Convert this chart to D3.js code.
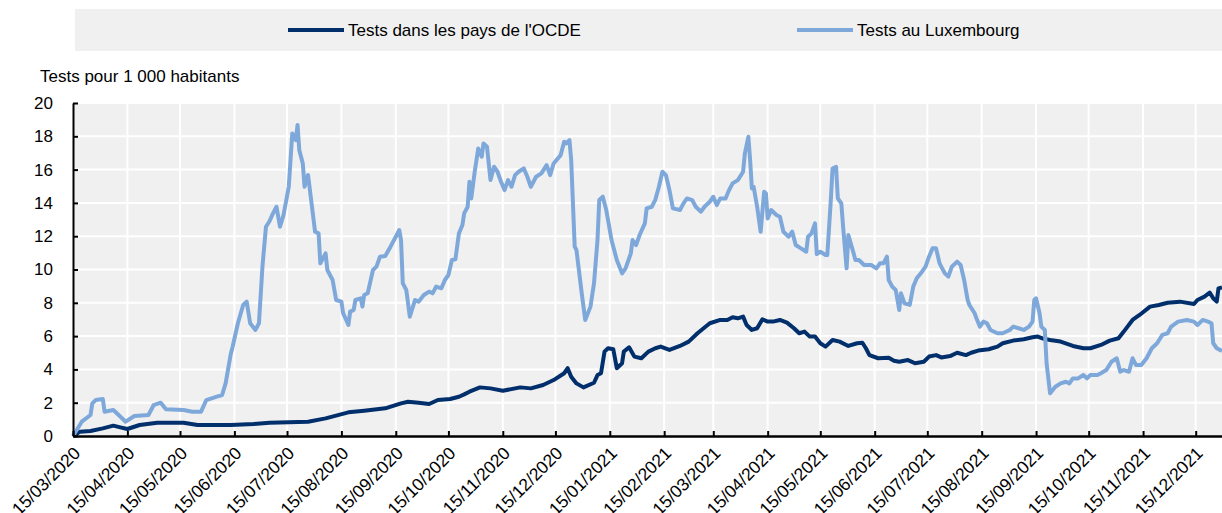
<!DOCTYPE html>
<html>
<head>
<meta charset="utf-8">
<script src="https://cdn.jsdelivr.net/npm/d3@7"></script>
<style>
  body { margin: 0; background: #fff; }
  svg { display: block; font-family: "Liberation Sans", Arial, sans-serif; }
</style>
</head>
<body>
<svg id="chart"></svg>
<script>
// Chart size
var width = 1222;
var height = 513;
var margin = { top: 103, right: 0, bottom: 77, left: 73 };

// Series names and colours
var seriesNames = ["Tests dans les pays de l'OCDE", "Tests au Luxembourg"];
var seriesColors = ["#002f6c", "#7ea8da"];

// Time axis: days counted from 15/03/2020
var startDate = "2020-03-15";
var endDate = "2021-12-30";
var tickLabels = ["15/03/2020", "15/04/2020", "15/05/2020", "15/06/2020", "15/07/2020",
    "15/08/2020", "15/09/2020", "15/10/2020", "15/11/2020", "15/12/2020", "15/01/2021",
    "15/02/2021", "15/03/2021", "15/04/2021", "15/05/2021", "15/06/2021", "15/07/2021",
    "15/08/2021", "15/09/2021", "15/10/2021", "15/11/2021", "15/12/2021"];
var yTicks = [0, 2, 4, 6, 8, 10, 12, 14, 16, 18, 20];
var yLabel = "Tests pour 1 000 habitants";

// OECD (days since start, tests per 1 000)
var oecdDay = [0, 4, 10, 17, 23, 27, 31, 38, 48, 63, 71, 90, 103, 112, 134, 144, 157, 166, 178, 187,
    191, 197, 203, 208, 215, 220, 223, 226, 232, 238, 245, 255, 261, 268, 274, 280, 282, 284, 287, 291,
    297, 299, 301, 303, 305, 308, 310, 313, 314, 317, 320, 324, 328, 332, 335, 340, 346, 351, 356, 363,
    369, 373, 376, 379, 382, 384, 387, 390, 393, 396, 399, 403, 407, 411, 414, 417, 420, 423, 426, 429,
    433, 437, 442, 447, 450, 452, 454, 459, 465, 468, 471, 476, 480, 485, 488, 492, 495, 500, 504, 509,
    512, 516, 522, 527, 530, 536, 542, 547, 550, 553, 557, 563, 570, 576, 580, 586, 591, 596, 599, 604,
    608, 614, 619, 624, 631, 639, 641, 645, 648, 650, 652, 653, 655];
var oecdVal = [0, 0.26, 0.3, 0.46, 0.62, 0.52, 0.42, 0.66, 0.8, 0.8, 0.66, 0.66, 0.72, 0.8, 0.86, 1.06, 1.42, 1.52, 1.66, 1.96,
    2.06, 2.0, 1.92, 2.16, 2.22, 2.36, 2.5, 2.66, 2.92, 2.86, 2.72, 2.92, 2.86, 3.06, 3.36, 3.77, 4.07, 3.56, 3.16, 2.92,
    3.2, 3.66, 3.77, 5.07, 5.27, 5.21, 4.07, 4.37, 5.07, 5.33, 4.77, 4.67, 5.07, 5.27, 5.37, 5.17, 5.41, 5.67, 6.17, 6.77,
    6.97, 6.97, 7.13, 7.07, 7.17, 6.67, 6.37, 6.47, 7.01, 6.87, 6.87, 6.97, 6.81, 6.47, 6.17, 6.27, 5.97, 5.97, 5.57, 5.37,
    5.77, 5.67, 5.41, 5.57, 5.6, 5.27, 4.86, 4.67, 4.7, 4.52, 4.46, 4.56, 4.37, 4.46, 4.77, 4.86, 4.72, 4.8, 5.0, 4.86,
    5.0, 5.13, 5.21, 5.37, 5.57, 5.73, 5.81, 5.93, 5.97, 5.85, 5.77, 5.67, 5.41, 5.27, 5.27, 5.47, 5.73, 5.87, 6.27, 6.97,
    7.27, 7.77, 7.87, 8.0, 8.07, 7.93, 8.17, 8.37, 8.61, 8.27, 8.07, 8.87, 8.93];

// Luxembourg (days since start, tests per 1 000)
var luxDay = [0, 5, 10, 11, 13, 17, 18, 23, 26, 30, 35, 43, 46, 50, 53, 63, 68, 73, 76, 82,
    85, 87, 90, 91, 94, 97, 99, 101, 104, 106, 108, 110, 112, 114, 116, 118, 120, 123, 125, 127,
    128, 129, 131, 132, 134, 136, 138, 140, 141, 144, 145, 148, 150, 153, 154, 157, 158, 160, 161, 164,
    165, 166, 168, 171, 173, 175, 178, 181, 184, 186, 187, 188, 190, 192, 195, 197, 200, 203, 205, 207,
    210, 212, 214, 216, 218, 220, 222, 223, 225, 226, 227, 229, 231, 233, 234, 236, 238, 240, 242, 244,
    246, 248, 250, 252, 254, 257, 259, 261, 264, 267, 270, 272, 274, 278, 280, 281, 283, 284, 286, 287,
    290, 292, 295, 297, 299, 300, 302, 304, 307, 308, 310, 313, 315, 318, 319, 321, 323, 326, 327, 330,
    332, 334, 336, 338, 340, 342, 346, 348, 350, 353, 355, 358, 360, 363, 365, 367, 369, 372, 374, 376,
    379, 382, 383, 385, 386, 387, 388, 390, 392, 394, 395, 396, 398, 401, 403, 405, 408, 410, 412, 415,
    418, 419, 421, 423, 424, 426, 429, 430, 432, 433, 435, 436, 438, 439, 441, 442, 445, 446, 448, 451,
    455, 458, 460, 462, 464, 465, 467, 469, 470, 471, 472, 474, 477, 479, 481, 484, 486, 488, 490, 492,
    494, 497, 499, 501, 504, 506, 508, 510, 511, 514, 515, 517, 519, 521, 523, 527, 530, 534, 536, 539,
    542, 545, 547, 548, 549, 551, 552, 554, 555, 557, 560, 563, 566, 568, 570, 573, 576, 578, 580, 584,
    586, 589, 592, 595, 597, 599, 602, 604, 606, 609, 612, 615, 618, 621, 624, 626, 630, 635, 639, 641,
    643, 644, 647, 649, 650, 652, 655];
var luxVal = [0, 0.86, 1.26, 1.96, 2.16, 2.22, 1.46, 1.56, 1.26, 0.86, 1.2, 1.26, 1.86, 2.0, 1.6, 1.56, 1.46, 1.46, 2.16, 2.36,
    2.46, 3.16, 4.96, 5.36, 6.77, 7.87, 8.07, 6.77, 6.37, 6.77, 10.17, 12.57, 12.9, 13.37, 13.77, 12.57, 13.27, 14.97, 18.17, 17.77,
    18.68, 17.17, 16.37, 14.97, 15.67, 13.97, 12.27, 12.17, 10.37, 10.97, 9.97, 9.37, 8.17, 8.07, 7.37, 6.67, 7.47, 7.57, 8.17, 8.27,
    7.77, 8.47, 8.57, 9.97, 10.17, 10.77, 10.81, 11.37, 11.97, 12.37, 11.77, 9.17, 8.77, 7.17, 8.17, 8.07, 8.47, 8.67, 8.57, 8.97,
    8.87, 9.37, 9.67, 10.57, 10.61, 12.17, 12.67, 13.37, 13.77, 15.27, 14.27, 15.87, 17.27, 16.77, 17.57, 17.37, 15.37, 16.17, 15.87, 15.27,
    14.77, 15.37, 14.97, 15.67, 15.87, 16.07, 15.57, 14.97, 15.57, 15.77, 16.27, 15.67, 16.37, 16.87, 17.67, 17.57, 17.77, 16.57, 11.37, 11.17,
    8.57, 6.97, 7.77, 9.17, 11.77, 14.17, 14.37, 13.57, 11.77, 11.37, 10.57, 9.77, 10.07, 10.97, 11.77, 11.47, 12.07, 12.77, 13.67, 13.77,
    14.2, 14.97, 15.87, 15.67, 14.77, 13.67, 13.57, 13.97, 14.27, 14.17, 13.77, 13.47, 13.77, 14.07, 14.37, 13.87, 14.27, 14.27, 14.77, 15.17,
    15.37, 15.87, 16.97, 17.97, 16.57, 14.87, 14.97, 13.77, 12.27, 14.67, 14.57, 13.07, 13.57, 13.27, 13.17, 12.27, 11.97, 12.27, 11.47, 11.27,
    11.07, 11.97, 12.17, 12.77, 10.93, 11.07, 10.87, 10.87, 14.17, 16.07, 16.17, 14.27, 13.97, 12.57, 10.07, 12.07, 10.97, 10.57, 10.57, 10.27,
    10.27, 10.07, 10.37, 10.37, 10.77, 9.37, 8.97, 8.77, 8.17, 7.57, 8.57, 7.97, 7.87, 8.97, 9.47, 9.87, 10.17, 10.77, 11.27, 11.27,
    10.37, 9.77, 9.57, 10.17, 10.47, 10.27, 9.37, 8.17, 7.87, 7.37, 7.07, 6.57, 6.87, 6.77, 6.37, 6.17, 6.17, 6.37, 6.57, 6.47,
    6.37, 6.57, 6.87, 8.17, 8.27, 7.37, 6.57, 6.37, 4.37, 2.56, 2.96, 3.16, 3.26, 3.16, 3.46, 3.46, 3.66, 3.46, 3.66, 3.66,
    3.77, 3.96, 4.46, 4.67, 3.86, 3.96, 3.86, 4.67, 4.26, 4.26, 4.67, 5.27, 5.57, 6.07, 6.17, 6.57, 6.87, 6.97, 6.87, 6.67,
    6.87, 6.97, 6.87, 6.77, 5.57, 5.27, 5.1];

var parse = d3.timeParse("%Y-%m-%d");
var t0 = parse(startDate);

// build point lists from the arrays above
function toPoints(days, vals) {
    return days.map(function (d, i) { return { date: d3.timeDay.offset(t0, d), value: vals[i] }; });
}
var series = [
    { name: seriesNames[0], color: seriesColors[0], points: toPoints(oecdDay, oecdVal) },
    { name: seriesNames[1], color: seriesColors[1], points: toPoints(luxDay, luxVal) }
];

var svg = d3.select("#chart").attr("width", width).attr("height", height);

var x = d3.scaleTime()
    .domain([t0, parse(endDate)])
    .range([margin.left, width - margin.right]);
var y = d3.scaleLinear()
    .domain([0, 20])
    .range([height - margin.bottom, margin.top]);

var tickDates = d3.range(tickLabels.length).map(function (i) { return d3.timeMonth.offset(t0, i); });

// Legend band
var legend = svg.append("g");
legend.append("rect")
    .attr("x", 75).attr("y", 9)
    .attr("width", width - 75).attr("height", 42)
    .attr("fill", "#f0f0f0");
var legendX = [288, 797];
series.forEach(function (s, i) {
    legend.append("line")
        .attr("x1", legendX[i]).attr("x2", legendX[i] + 56)
        .attr("y1", 30).attr("y2", 30)
        .attr("stroke", s.color).attr("stroke-width", 4);
    legend.append("text")
        .attr("x", legendX[i] + 60).attr("y", 30)
        .attr("dy", "0.35em")
        .style("font-size", "17px")
        .text(s.name);
});

// Plot background and grid
svg.append("rect")
    .attr("x", margin.left).attr("y", margin.top)
    .attr("width", width - margin.right - margin.left)
    .attr("height", height - margin.bottom - margin.top)
    .attr("fill", "#f0f0f0");

svg.append("g")
    .selectAll("line")
    .data(yTicks.slice(1))
    .enter().append("line")
    .attr("x1", margin.left).attr("x2", width - margin.right)
    .attr("y1", function (d) { return y(d); })
    .attr("y2", function (d) { return y(d); })
    .attr("stroke", "#fff").attr("stroke-width", 2);

svg.append("g")
    .selectAll("line")
    .data(tickDates.slice(1))
    .enter().append("line")
    .attr("x1", function (d) { return x(d); })
    .attr("x2", function (d) { return x(d); })
    .attr("y1", margin.top).attr("y2", height - margin.bottom)
    .attr("stroke", "#fff").attr("stroke-width", 2);

// Lines
var line = d3.line()
    .x(function (d) { return x(d.date); })
    .y(function (d) { return y(d.value); });

svg.append("g")
    .selectAll("path")
    .data(series)
    .enter().append("path")
    .attr("d", function (d) { return line(d.points); })
    .attr("fill", "none")
    .attr("stroke", function (d) { return d.color; })
    .attr("stroke-width", 4)
    .attr("stroke-linejoin", "round");

// Y axis (ticks pointing inwards)
var yAxis = svg.append("g")
    .attr("transform", "translate(" + margin.left + ",0)")
    .call(d3.axisRight(y).tickValues(yTicks).tickSize(5).tickSizeOuter(0).tickFormat(""));
yAxis.select(".domain").attr("stroke", "#000").attr("stroke-width", 2);
yAxis.selectAll(".tick line").attr("stroke", "#000").attr("stroke-width", 2);

svg.append("g")
    .selectAll("text")
    .data(yTicks)
    .enter().append("text")
    .attr("x", 53)
    .attr("y", function (d) { return y(d); })
    .attr("dy", "0.35em")
    .attr("text-anchor", "end")
    .style("font-size", "17px")
    .text(function (d) { return d; });

svg.append("text")
    .attr("x", 40).attr("y", 82)
    .style("font-size", "17px")
    .text(yLabel);

// X axis (ticks pointing up into the plot)
var xAxis = svg.append("g")
    .attr("transform", "translate(0," + (height - margin.bottom) + ")")
    .call(d3.axisTop(x).tickValues(tickDates).tickSize(5).tickSizeOuter(0).tickFormat(""));
xAxis.select(".domain").attr("stroke", "#000").attr("stroke-width", 2.5);
xAxis.selectAll(".tick line").attr("stroke", "#000").attr("stroke-width", 2);

svg.append("g")
    .selectAll("text")
    .data(tickDates)
    .enter().append("text")
    .attr("transform", function (d) {
        return "translate(" + (x(d) - 1) + "," + (height - margin.bottom + 9) + ")rotate(-45)";
    })
    .attr("text-anchor", "end")
    .attr("dy", "0.75em")
    .style("font-size", "17.5px")
    .text(function (d, i) { return tickLabels[i]; });
</script>
</body>
</html>
